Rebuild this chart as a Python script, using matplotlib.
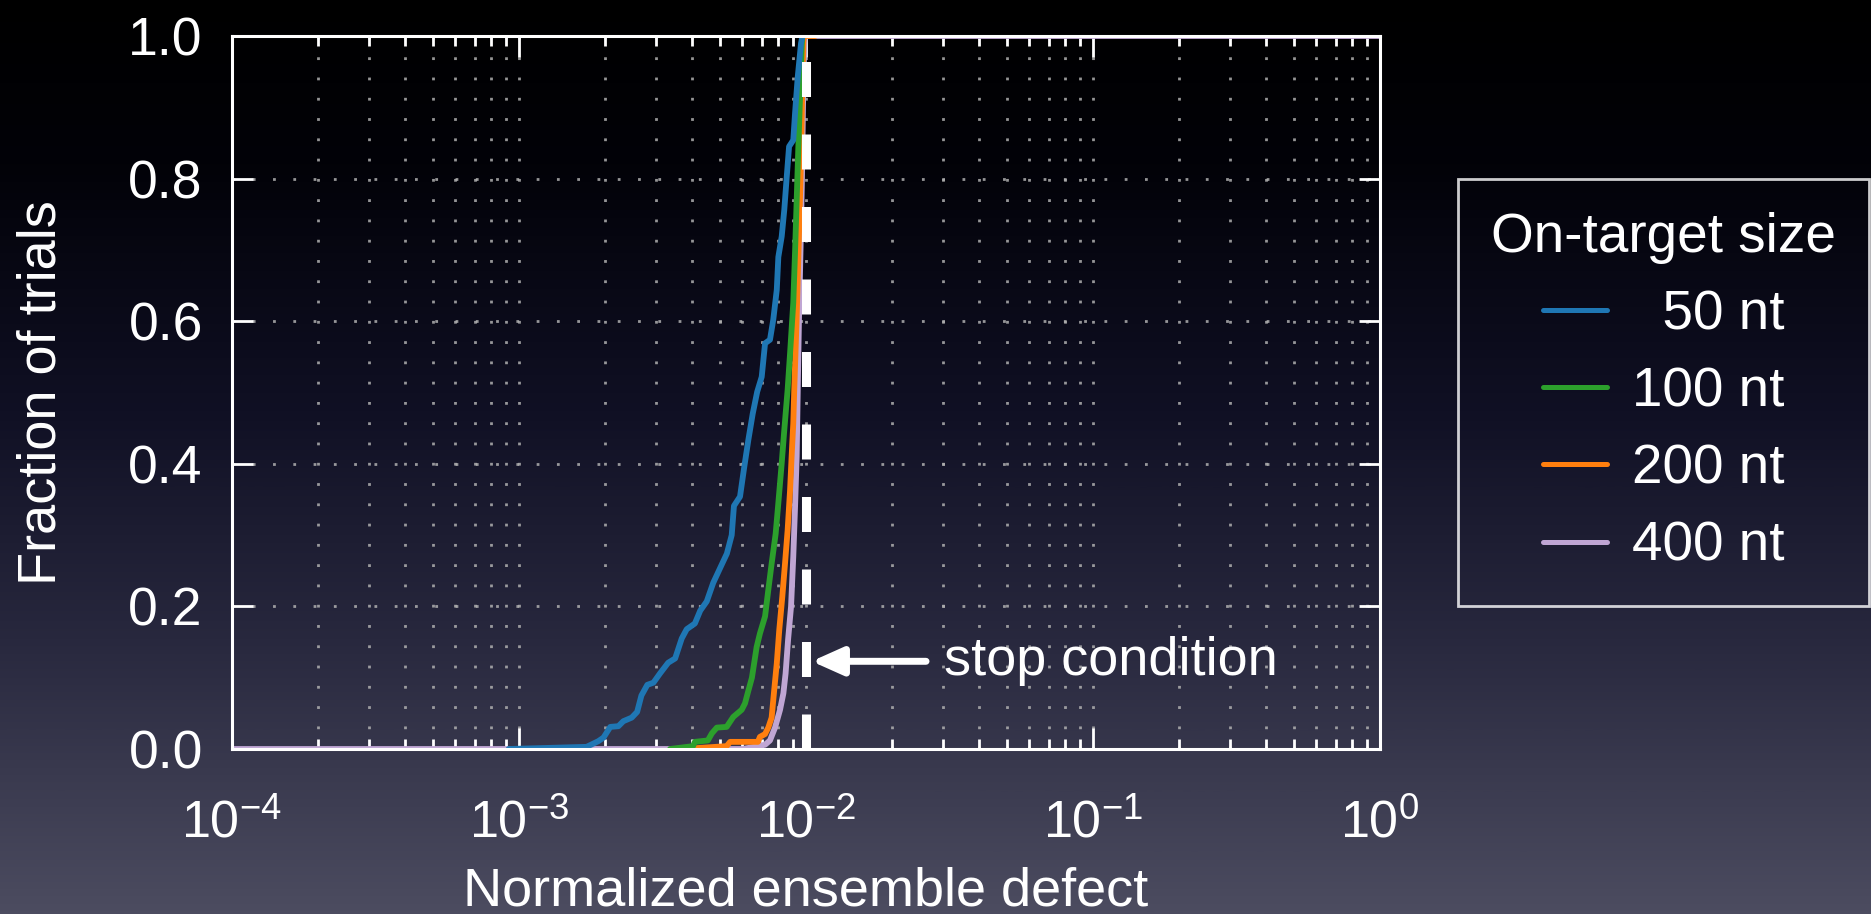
import numpy as np
import matplotlib
matplotlib.use("Agg")
import matplotlib.pyplot as plt
from matplotlib.lines import Line2D
from matplotlib.ticker import NullFormatter
from matplotlib.colors import LinearSegmentedColormap

plt.rcParams['font.family'] = ['Liberation Sans', 'DejaVu Sans']
plt.rcParams['mathtext.fontset'] = 'custom'
plt.rcParams['mathtext.rm'] = 'Liberation Sans'
plt.rcParams['mathtext.it'] = 'Liberation Sans:italic'
plt.rcParams['mathtext.bf'] = 'Liberation Sans:bold'
plt.rcParams['mathtext.sf'] = 'Liberation Sans'

# ---------------- data ----------------
series_labels = ['  50 nt', '100 nt', '200 nt', '400 nt']
series_colors = ['#1f77b4', '#2ca02c', '#ff7f0e', '#c0a6d4']

defect_50 = [9.2e-4, 1.72e-3, 1.89e-3, 1.97e-3, 2.08e-3, 2.22e-3, 2.31e-3, 2.47e-3,
             2.58e-3, 2.67e-3, 2.80e-3, 2.94e-3, 3.10e-3, 3.31e-3, 3.50e-3, 3.69e-3,
             3.84e-3, 4.10e-3, 4.28e-3, 4.51e-3, 4.75e-3, 5.01e-3, 5.30e-3, 5.51e-3,
             5.61e-3, 5.89e-3, 6.08e-3, 6.30e-3, 6.52e-3, 6.76e-3, 7.01e-3, 7.20e-3,
             7.49e-3, 7.69e-3, 7.91e-3, 8.01e-3, 8.23e-3, 8.40e-3, 8.57e-3, 8.73e-3,
             9.03e-3, 9.16e-3, 9.36e-3, 9.61e-3, 9.71e-3, 9.76e-3]
frac_50 = [0.0, 0.003, 0.011, 0.016, 0.031, 0.032, 0.039, 0.044,
           0.052, 0.075, 0.090, 0.093, 0.106, 0.121, 0.127, 0.155,
           0.168, 0.176, 0.194, 0.207, 0.233, 0.253, 0.274, 0.300,
           0.341, 0.354, 0.393, 0.434, 0.470, 0.501, 0.522, 0.569,
           0.574, 0.602, 0.644, 0.690, 0.719, 0.756, 0.803, 0.845,
           0.854, 0.892, 0.943, 0.990, 0.999, 1.0]

defect_100 = [3.36e-3, 4.04e-3, 4.10e-3, 4.55e-3, 4.70e-3, 4.89e-3, 5.29e-3, 5.58e-3,
              5.97e-3, 6.13e-3, 6.30e-3, 6.48e-3, 6.73e-3, 6.91e-3, 7.20e-3, 7.39e-3,
              7.59e-3, 7.84e-3, 8.01e-3, 8.23e-3, 8.40e-3, 8.63e-3, 8.80e-3, 9.03e-3,
              9.16e-3, 9.28e-3, 9.40e-3, 9.53e-3, 9.66e-3, 9.71e-3]
frac_100 = [0.0, 0.004, 0.010, 0.012, 0.022, 0.030, 0.031, 0.045,
            0.055, 0.064, 0.082, 0.100, 0.143, 0.162, 0.186, 0.223,
            0.260, 0.302, 0.345, 0.401, 0.447, 0.504, 0.555, 0.626,
            0.698, 0.770, 0.842, 0.913, 0.985, 1.0]

defect_200 = [3.74e-3, 5.29e-3, 5.44e-3, 6.80e-3, 6.91e-3, 7.20e-3, 7.39e-3, 7.59e-3,
              7.75e-3, 7.91e-3, 8.07e-3, 8.27e-3, 8.45e-3, 8.63e-3, 8.80e-3, 8.91e-3,
              9.03e-3, 9.10e-3, 9.27e-3, 9.42e-3, 9.57e-3, 9.68e-3, 9.79e-3, 9.84e-3,
              1.075e-2]
frac_200 = [0.0, 0.004, 0.010, 0.010, 0.017, 0.021, 0.030, 0.044,
            0.083, 0.120, 0.167, 0.214, 0.260, 0.307, 0.363, 0.410,
            0.457, 0.504, 0.600, 0.700, 0.800, 0.900, 0.990, 1.0,
            1.0]

defect_400 = [1e-4, 6.03e-3, 7.20e-3, 7.49e-3, 7.80e-3, 8.12e-3, 8.34e-3, 8.49e-3,
              8.66e-3, 8.87e-3, 9.03e-3, 9.16e-3, 9.28e-3, 9.36e-3, 9.45e-3, 9.57e-3,
              9.68e-3, 9.76e-3, 9.86e-3, 9.91e-3, 1.0]
frac_400 = [0.0, 0.0, 0.006, 0.012, 0.030, 0.055, 0.078, 0.106,
            0.153, 0.200, 0.270, 0.340, 0.410, 0.504, 0.600, 0.700,
            0.800, 0.900, 0.990, 1.0, 1.0]

stop_condition = 0.01
stop_label = 'stop condition'
arrow_tail_x = 0.0262
arrow_head_x = 0.01046
arrow_y = 0.123
text_x = 0.0303

x_ticks = [1e-4, 1e-3, 1e-2, 1e-1, 1e0]
x_tick_labels = [r'$10^{-4}$', r'$10^{-3}$', r'$10^{-2}$', r'$10^{-1}$', r'$10^{0}$']
y_ticks = [0.0, 0.2, 0.4, 0.6, 0.8, 1.0]
y_tick_labels = ['0.0', '0.2', '0.4', '0.6', '0.8', '1.0']
x_label = 'Normalized ensemble defect'
y_label = 'Fraction of trials'
legend_title = 'On-target size'

# ---------------- figure ----------------
W, H = 1871, 914
fig = plt.figure(figsize=(W / 100, H / 100), dpi=100)

# background gradient
bg = fig.add_axes([0, 0, 1, 1], zorder=-10)
grad_cmap = LinearSegmentedColormap.from_list(
    'bg', [(0.0, (0, 0, 0)), (0.18, (2 / 255, 2 / 255, 8 / 255)),
           (0.45, (16 / 255, 16 / 255, 36 / 255)), (0.7, (40 / 255, 40 / 255, 62 / 255)),
           (1.0, (76 / 255, 76 / 255, 96 / 255))])
g = np.linspace(0, 1, 512).reshape(-1, 1)
bg.imshow(g, aspect='auto', cmap=grad_cmap, extent=[0, 1, 0, 1], origin='upper')
bg.set_axis_off()

L, R, T, B = 232, 1380, 36, 749
ax = fig.add_axes([L / W, 1 - B / H, (R - L) / W, (B - T) / H])
ax.set_facecolor('none')

datasets = [(defect_50, frac_50), (defect_100, frac_100), (defect_200, frac_200), (defect_400, frac_400)]
handles = []
for i, ((xs, ys), lab, col) in enumerate(zip(datasets, series_labels, series_colors)):
    ax.plot(xs, ys, color=col, lw=4.2, zorder=2.5 - 0.1 * i, solid_joinstyle='round',
            solid_capstyle='round')
    handles.append(Line2D([], [], color=col, lw=3.6, solid_capstyle='round'))

ax.set_xscale('log')
ax.set_xlim(1e-4, 1e0)
ax.set_ylim(0, 1)

# stop condition dashed line
lw_d = 6.5
ax.plot([stop_condition, stop_condition], [0, 1], color='white', lw=lw_d,
        ls=(0, (25.2 / lw_d, 27.0 / lw_d)), dash_capstyle='butt', zorder=4)

# annotation arrow + text
ax.annotate('', xy=(arrow_head_x, arrow_y), xytext=(arrow_tail_x, arrow_y),
            arrowprops=dict(arrowstyle='-|>,head_length=1.9,head_width=0.85', lw=5,
                            color='white', shrinkA=0, shrinkB=0, mutation_scale=10,
                            capstyle='round'), zorder=5)
ax.text(text_x, arrow_y, stop_label, color='white', fontsize=39, va='center', ha='left', zorder=5)

# grid
grid_kw = dict(color='#b0b0b0', lw=2.0, ls=(0, (1, 6.3)), alpha=0.85)
ax.grid(True, which='both', axis='x', **grid_kw)
ax.grid(True, which='major', axis='y', **grid_kw)
ax.set_axisbelow(True)

# ticks
ax.set_xticks(x_ticks, labels=x_tick_labels)
ax.xaxis.set_minor_formatter(NullFormatter())
ax.set_yticks(y_ticks, labels=y_tick_labels)
ax.tick_params(which='both', direction='in', top=True, right=True, colors='white', width=2)
ax.tick_params(which='major', length=15)
ax.tick_params(which='minor', length=7)
ax.tick_params(axis='x', which='major', labelsize=37.5, pad=36)
ax.tick_params(axis='y', which='major', labelsize=38.5, pad=21)
for sp in ax.spines.values():
    sp.set_color('white')
    sp.set_linewidth(2.2)
    sp.set_zorder(6)

ax.set_xlabel(x_label, fontsize=39, color='white', va='baseline')
ax.xaxis.set_label_coords(0.5, (B - 905) / (B - T))
ax.set_ylabel(y_label, fontsize=39, color='white', va='baseline')
ax.yaxis.set_label_coords((55 - L) / (R - L), 0.5)

leg = fig.legend(handles, series_labels, title=legend_title, loc='upper left',
                 bbox_to_anchor=(1458 / W, 1 - 179 / H), bbox_transform=fig.transFigure,
                 fontsize=39.5, title_fontsize=39.5, frameon=True, fancybox=False,
                 edgecolor='white', facecolor='none', framealpha=None,
                 borderpad=0.6, labelspacing=0.46, handlelength=1.17, handletextpad=0.45,
                 borderaxespad=0)
leg.get_frame().set_linewidth(2)
for t in leg.get_texts():
    t.set_color('white')
leg.get_title().set_color('white')

fig.savefig('out.png', dpi=100)
